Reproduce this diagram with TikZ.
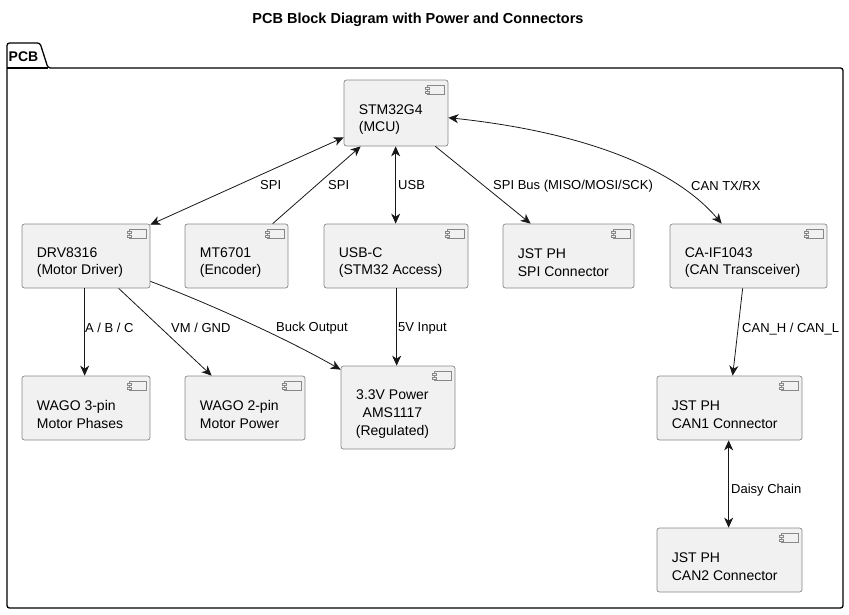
\documentclass[tikz,border=0pt]{standalone}
\usepackage{fontspec}
\setmainfont{Liberation Sans}
\usetikzlibrary{arrows.meta,calc,fit}
\definecolor{boxfill}{HTML}{F1F1F1}
\definecolor{edgecol}{HTML}{181818}
\definecolor{boxline}{HTML}{888888}
\tikzset{
  box/.style={draw=boxline, fill=boxfill, rounded corners=2.5pt, line width=0.7pt, inner sep=0pt},
  ctext/.style={font=\fontsize{14}{17.7}\selectfont, align=left, inner sep=0pt, anchor=west, text=black},
  lbl/.style={font=\fontsize{13}{15}\selectfont, inner sep=0pt, anchor=west, text=black},
  link/.style={draw=edgecol, line width=0.8pt},
  icon/.style={draw=boxline, fill=boxfill, line width=0.6pt},
  pkg/.style={draw=black, line width=1.3pt, rounded corners=2.5pt},
}
\newcommand\compicon[1]{%
  \draw[icon] ($(#1.north east)+(-21,6)$) rectangle ($(#1.north east)+(-4,15)$);
  \draw[icon] ($(#1.north east)+(-23,8)$) rectangle ($(#1.north east)+(-19,10)$);
  \draw[icon] ($(#1.north east)+(-23,11.5)$) rectangle ($(#1.north east)+(-19,13.5)$);
}
\newcommand\compnode[6][]{%
  \node[box, fit={(#3,#4) (#5,#6)}] (#2) {};
  \compicon{#2}
}
\begin{document}
\begin{tikzpicture}[x=1pt, y=-1pt, >={Stealth[length=10pt,width=9pt,inset=3pt]}]
\useasboundingbox (0,0) rectangle (849,614);
% title
\node[font=\bfseries\fontsize{14.5}{16}\selectfont, inner sep=0pt] (title) at (418,20) {PCB Block Diagram with Power and Connectors};
% package
\draw[pkg] (7,68) -- (7,43) -- (40,43) -- (48,68) -- (843,68) -- (843,608) -- (7,608) -- cycle;
\draw[pkg, rounded corners=0pt] (7,68) -- (48,68);
\node[font=\bfseries\fontsize{14}{16}\selectfont, anchor=west, inner sep=0pt] (pcb) at (8.5,56.5) {PCB};
% components
\compnode{stm}{344}{80}{448}{146}
\node[ctext] (stm-t) at ($(stm.west)+(15,6.5)$) {STM32G4\\(MCU)};
\compnode{drv}{22}{224}{150}{288}
\node[ctext] (drv-t) at ($(drv.west)+(15,6.5)$) {DRV8316\\(Motor Driver)};
\compnode{mt}{185}{224}{288}{288}
\node[ctext] (mt-t) at ($(mt.west)+(15,6.5)$) {MT6701\\(Encoder)};
\compnode{usb}{324}{224}{468}{288}
\node[ctext] (usb-t) at ($(usb.west)+(15,6.5)$) {USB-C\\(STM32 Access)};
\compnode{jst}{503}{224}{634}{288}
\node[ctext] (jst-t) at ($(jst.west)+(15,6.5)$) {JST PH\\SPI Connector};
\compnode{caif}{670}{224}{827}{288}
\node[ctext] (caif-t) at ($(caif.west)+(15,6.5)$) {CA-IF1043\\(CAN Transceiver)};
\compnode{wagoa}{22}{376}{150}{440}
\node[ctext] (wagoa-t) at ($(wagoa.west)+(15,6.5)$) {WAGO 3-pin\\Motor Phases};
\compnode{wagob}{185}{376}{305}{440}
\node[ctext] (wagob-t) at ($(wagob.west)+(15,6.5)$) {WAGO 2-pin\\Motor Power};
\compnode{pwr}{341}{366}{455}{449}
\node[ctext, align=center] (pwr-t) at ($(pwr.west)+(15,6.5)$) {3.3V Power\\AMS1117\\(Regulated)};
\compnode{cana}{657}{376}{802}{440}
\node[ctext] (cana-t) at ($(cana.west)+(15,6.5)$) {JST PH\\CAN1 Connector};
\compnode{canb}{657}{528}{802}{592}
\node[ctext] (canb-t) at ($(canb.west)+(15,6.5)$) {JST PH\\CAN2 Connector};
% connectors
\draw[link, <->] ($(stm.south west)+(0,-9)$) -- ($(drv.north east)+(0,1)$);
\draw[link, ->] ($(mt.north west)+(88,0)$) -- ($(stm.south west)+(17,0)$);
\draw[link, <->] ($(stm.south west)+(52,0)$) -- ($(usb.north west)+(72,0)$);
\draw[link, ->] ($(stm.south east)+(-13,0)$) -- ($(jst.north west)+(28,0)$);
\draw[link, <->] ($(stm.north east)+(0,38)$) .. controls (610,135) and (685,180) .. ($(caif.north west)+(52,0)$);
\draw[link, ->] ($(drv.south west)+(63,0)$) -- ($(wagoa.north west)+(63,0)$);
\draw[link, ->] ($(drv.south west)+(97,0)$) -- ($(wagob.north west)+(27,0)$);
\draw[link, ->] ($(drv.south east)+(0,-7)$) .. controls (200,300) and (280,335) .. ($(pwr.north west)+(0,4)$);
\draw[link, ->] ($(usb.south west)+(73,0)$) -- ($(pwr.north west)+(56,0)$);
\draw[link, ->] ($(caif.south west)+(73,0)$) -- ($(cana.north west)+(76,0)$);
\draw[link, <->] ($(cana.south west)+(72,0)$) -- ($(canb.north west)+(72,0)$);
% labels
\node[lbl] (l1) at (260,185) {SPI};
\node[lbl] (l2) at (328,185) {SPI};
\node[lbl] (l3) at (398,185) {USB};
\node[lbl] (l4) at (493,186) {SPI Bus (MISO/MOSI/SCK)};
\node[lbl] (l5) at (691,186) {CAN TX/RX};
\node[lbl] (l6) at (85,328) {A / B / C};
\node[lbl] (l7) at (171,328) {VM / GND};
\node[lbl] (l8) at (276,328) {Buck Output};
\node[lbl] (l9) at (398,328) {5V Input};
\node[lbl] (l10) at (742,329) {CAN\_H / CAN\_L};
\node[lbl] (l11) at (731,490) {Daisy Chain};
\end{tikzpicture}
\end{document}
